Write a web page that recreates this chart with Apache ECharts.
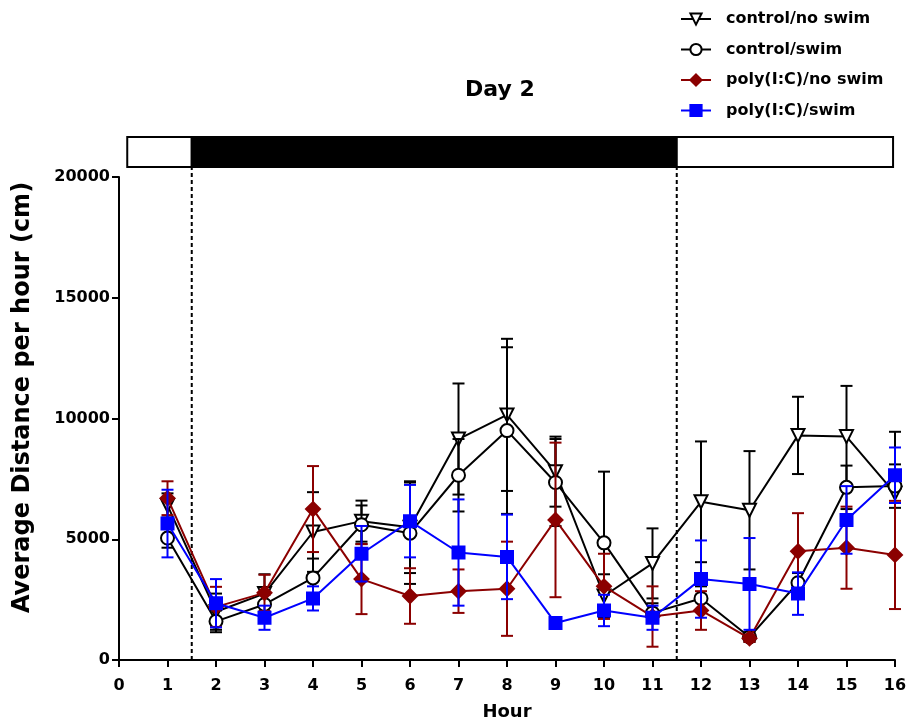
<!DOCTYPE html>
<html>
<head>
<meta charset="utf-8">
<script src="https://cdn.jsdelivr.net/npm/echarts@6/dist/echarts.min.js"></script>
<style>
  html, body { margin: 0; padding: 0; background: #fff; }
  #chart { width: 910px; height: 726px; }
</style>
</head>
<body>
<div id="chart"></div>
<script>
// Hourly activity, day 2
const hours = [1, 2, 3, 4, 5, 6, 7, 8, 9, 10, 11, 12, 13, 14, 15, 16];

const ctrlNoSwim    = [6400, 2000, 2750, 5300, 5750, 5500, 9150, 10150, 7800, 2650, 4000, 6550, 6200, 9300, 9250, 6900];
const ctrlNoSwimErr = [500, 750, 800, 1650, 850, 1900, 2300, 3150, 1450, 900, 1450, 2500, 2450, 1600, 2100, 2550];

const ctrlSwim    = [5050, 1600, 2300, 3400, 5600, 5250, 7650, 9500, 7350, 4850, 1950, 2550, 950, 3200, 7150, 7200];
const ctrlSwimErr = [400, 450, 400, 800, 800, 2100, 1500, 3450, 1800, 2950, 400, 500, 200, 400, 900, 900];

const polyNoSwim    = [6700, 2200, 2780, 6250, 3350, 2650, 2850, 2950, 5800, 3050, 1800, 2050, 900, 4500, 4650, 4350];
const polyNoSwimErr = [700, 830, 750, 1780, 1450, 1150, 900, 1950, 3200, 1350, 1250, 800, 150, 1580, 1700, 2240];

const polySwim    = [5650, 2350, 1750, 2550, 4400, 5750, 4450, 4270, 1530, 2050, 1750, 3350, 3150, 2750, 5800, 7650];
const polySwimErr = [1400, 1000, 500, 500, 1150, 1500, 2200, 1750, 150, 650, 500, 1600, 1900, 880, 1400, 1150];

// light / dark phases (hour units)
const phaseStart = [0.17, 1.5, 11.5];
const phaseEnd   = [1.5, 11.5, 15.96];
const phaseDark  = [0, 1, 0];

// lights-on / lights-off transitions
const transitions = [1.5, 11.5];

const xTicks = [0, 16, 1];
const yTicks = [0, 20000, 5000];

const FONT = '"DejaVu Sans", Verdana, sans-serif';

const groups = [
  { name: 'control/no swim',   vals: ctrlNoSwim, errs: ctrlNoSwimErr, color: '#000000', symbol: 'emptyTriangle', rotate: 180, size: 13 },
  { name: 'control/swim',      vals: ctrlSwim,   errs: ctrlSwimErr,   color: '#000000', symbol: 'emptyCircle',   rotate: 0,   size: 13 },
  { name: 'poly(I:C)/no swim', vals: polyNoSwim, errs: polyNoSwimErr, color: '#8b0000', symbol: 'diamond',       rotate: 0,   size: 14 },
  { name: 'poly(I:C)/swim',    vals: polySwim,   errs: polySwimErr,   color: '#0000ff', symbol: 'rect',          rotate: 0,   size: 12 }
];

function errorBarRenderer(color) {
  return function (params, api) {
    const x = api.value(0), y = api.value(1), e = api.value(2);
    const hi = api.coord([x, y + e]);
    const lo = api.coord([x, Math.max(0, y - e)]);
    const cap = 6;
    const st = { stroke: color, lineWidth: 2 };
    return {
      type: 'group',
      children: [
        { type: 'line', shape: { x1: hi[0], y1: hi[1], x2: lo[0], y2: lo[1] }, style: st },
        { type: 'line', shape: { x1: hi[0] - cap, y1: hi[1], x2: hi[0] + cap, y2: hi[1] }, style: st },
        { type: 'line', shape: { x1: lo[0] - cap, y1: lo[1], x2: lo[0] + cap, y2: lo[1] }, style: st }
      ]
    };
  };
}

const series = [];

// light/dark bar above the plot
series.push({
  type: 'custom',
  xAxisIndex: 1, yAxisIndex: 1,
  silent: true,
  data: phaseStart.map((s, i) => [s, phaseEnd[i], phaseDark[i]]),
  renderItem: function (params, api) {
    const a = api.coord([api.value(0), 1]);
    const b = api.coord([api.value(1), 0]);
    return {
      type: 'rect',
      shape: { x: a[0], y: a[1], width: b[0] - a[0], height: b[1] - a[1] },
      style: { fill: api.value(2) ? '#000' : '#fff', stroke: '#000', lineWidth: 2 }
    };
  }
});

// dashed transition lines
series.push({
  type: 'custom',
  xAxisIndex: 0, yAxisIndex: 0,
  silent: true,
  clip: false,
  z: 1,
  data: transitions.map(t => [t]),
  renderItem: function (params, api) {
    const x = api.value(0);
    const p0 = api.coord([x, yTicks[0]]);
    const p1 = api.coord([x, yTicks[1]]);
    return {
      type: 'line',
      shape: { x1: p0[0], y1: p0[1], x2: p1[0], y2: p1[1] - 10 },
      style: { stroke: '#000', lineWidth: 2, lineDash: [4, 3] }
    };
  }
});

groups.forEach((g, gi) => {
  series.push({
    type: 'custom',
    name: g.name + ' SEM',
    xAxisIndex: 0, yAxisIndex: 0,
    silent: true,
    z: 2 + gi * 2,
    itemStyle: { color: g.color },
    data: hours.map((h, i) => [h, g.vals[i], g.errs[i]]),
    renderItem: errorBarRenderer(g.color)
  });
  series.push({
    type: 'line',
    name: g.name,
    xAxisIndex: 0, yAxisIndex: 0,
    z: 3 + gi * 2,
    color: g.color,
    data: hours.map((h, i) => [h, g.vals[i]]),
    symbol: g.symbol,
    symbolSize: g.size,
    symbolRotate: g.rotate,
    showAllSymbol: true,
    lineStyle: { color: g.color, width: 2 },
    itemStyle: { color: g.color, borderColor: g.color, borderWidth: 2 }
  });
});

const chart = echarts.init(document.getElementById('chart'));
chart.setOption({
  animation: false,
  backgroundColor: '#fff',
  title: {
    text: 'Day 2',
    left: 460, top: 74,
    textStyle: { fontFamily: FONT, fontWeight: 'bold', fontSize: 22, color: '#000' }
  },
  legend: {
    orient: 'vertical',
    left: 675, top: 6,
    itemWidth: 30, itemHeight: 14,
    itemGap: 14.5,
    data: groups.map(g => g.symbol.indexOf('empty') === 0
      ? { name: g.name }
      : { name: g.name, itemStyle: { color: g.color, borderColor: g.color } }),
    textStyle: { fontFamily: FONT, fontWeight: 'bold', fontSize: 16, color: '#000', padding: [0, 0, 0, 10] }
  },
  grid: [
    { left: 119, right: 15, top: 177, bottom: 66 },
    { left: 119, right: 15, top: 137, height: 30 }
  ],
  xAxis: [
    {
      gridIndex: 0, type: 'value',
      min: xTicks[0], max: xTicks[1], interval: xTicks[2],
      name: 'Hour', nameLocation: 'middle', nameGap: 43,
      nameTextStyle: { fontFamily: FONT, fontWeight: 'bold', fontSize: 18, color: '#000' },
      axisLine: { show: true, lineStyle: { color: '#000', width: 2 } },
      axisTick: { show: true, length: 7, lineStyle: { color: '#000', width: 2 } },
      axisLabel: { fontFamily: FONT, fontWeight: 'bold', fontSize: 16, color: '#000', margin: 18 },
      splitLine: { show: false }
    },
    { gridIndex: 1, type: 'value', min: 0, max: 16, show: false }
  ],
  yAxis: [
    {
      gridIndex: 0, type: 'value',
      min: yTicks[0], max: yTicks[1], interval: yTicks[2],
      name: 'Average Distance per hour (cm)', nameLocation: 'middle', nameGap: 84,
      nameTextStyle: { fontFamily: FONT, fontWeight: 'bold', fontSize: 24, color: '#000', padding: [0, 0, 0, 42] },
      axisLine: { show: true, lineStyle: { color: '#000', width: 2 } },
      axisTick: { show: true, length: 7, lineStyle: { color: '#000', width: 2 } },
      axisLabel: { fontFamily: FONT, fontWeight: 'bold', fontSize: 16, color: '#000', margin: 9,
                   formatter: v => String(v) },
      splitLine: { show: false }
    },
    { gridIndex: 1, type: 'value', min: 0, max: 1, show: false }
  ],
  series: series
});
</script>
</body>
</html>
